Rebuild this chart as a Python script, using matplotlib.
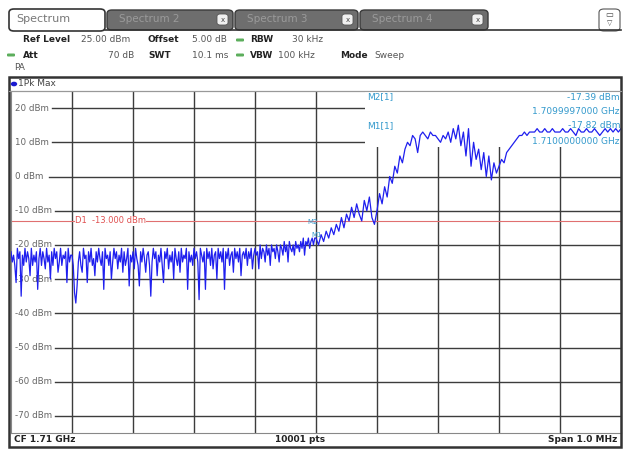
import numpy as np
import matplotlib
matplotlib.use('Agg')
import matplotlib.pyplot as plt
from matplotlib.patches import Rectangle, FancyBboxPatch, Circle

W, H = 623, 451

# sweep: CF 1.71 GHz, span 1 MHz (values in MHz)
f_start, f_stop = 1709.5, 1710.5
ref_level, bottom_level = 25, -75

# trace (1Pk Max), read division by division
div1 = [-22, -25, -23, -26, -31, -21, -24, -22, -35, -23, -26, -21, -25, -22, -24, -29, -21, -26, -23, -25, -22, -33, -24, -21,
        -26, -22, -24, -27, -21, -25, -23, -30, -22, -26, -21, -24, -22, -28, -25, -21, -26, -23, -24, -22, -31, -21, -25, -23]
div2 = [-23, -26, -34, -37, -32, -25, -22, -26, -28, -21, -24, -23, -31, -22, -25, -21, -26, -24, -29, -22, -25, -21, -24, -26,
        -22, -33, -21, -24, -23, -26, -22, -30, -25, -21, -24, -22, -27, -23, -25, -21, -28, -22, -26, -24, -21, -32, -23, -25]
div3 = [-22, -27, -21, -24, -26, -32, -22, -25, -21, -24, -28, -23, -22, -26, -35, -25, -21, -24, -22, -29, -23, -25, -21, -26,
        -31, -22, -24, -21, -27, -23, -25, -22, -30, -21, -24, -26, -22, -28, -21, -25, -23, -24, -21, -33, -22, -25, -23, -26]
div4 = [-21, -24, -22, -25, -36, -21, -23, -25, -22, -33, -21, -24, -22, -26, -21, -27, -23, -22, -30, -21, -24, -22, -25, -21,
        -33, -22, -24, -21, -26, -23, -22, -28, -21, -24, -22, -25, -21, -29, -23, -22, -24, -21, -26, -22, -24, -21, -27, -23]
div5 = [-21, -23, -22, -27, -20, -24, -21, -22, -25, -20, -23, -21, -26, -20, -22, -21, -24, -20, -22, -25, -20, -21, -23, -19,
        -22, -20, -25, -19, -21, -22, -20, -23, -19, -21, -20, -22, -19, -21, -18, -23, -19, -20, -18, -21, -19, -18, -20, -18]
div6 = [-18, -20, -17, -19, -16, -18, -15, -17, -14, -16, -12, -15, -11, -13, -9, -12, -8, -11, -13, -7, -10, -6, -12, -14]
div7 = [-10, -5, -8, -3, -6, 0, -2, 3, 1, 6, 4, 8, 10, 9, 12, 11, 7, 12, 13, 12, 11, 13, 12, 12]
div8 = [11, 10, 12, 11, 13, 10, 14, 11, 15, 9, 13, 6, 14, 3, 10, 5, 8, 2, 7, 0, 6, -1, 4, 1]
div9 = [3, 5, 4, 7, 8, 9, 10, 11, 12, 12, 13, 12, 13, 13, 13, 14, 13, 13, 14, 13, 13, 14, 13, 13]
div10 = [13, 14, 13, 13, 14, 13, 12, 14, 13, 13, 14, 13, 13, 14, 13, 12, 13, 14, 13, 14, 13, 14, 13, 14]
divisions = [div1, div2, div3, div4, div5, div6, div7, div8, div9, div10]

y_labels = ['20 dBm', '10 dBm', '0 dBm', '-10 dBm', '-20 dBm', '-30 dBm', '-40 dBm', '-50 dBm', '-60 dBm', '-70 dBm']
y_levels = [20, 10, 0, -10, -20, -30, -40, -50, -60, -70]
d1_level = -13.0

markers = [('M2[1]', '-17.39 dBm', '1.7099997000 GHz'),
           ('M1[1]', '-17.82 dBm', '1.7100000000 GHz')]


def fx(x):
    return x / W


def fy(y):
    return 1 - y / H


fig = plt.figure(figsize=(W / 100, H / 100), dpi=100)
fig.patch.set_facecolor('white')

# ---- tabs
fig.add_artist(plt.Line2D([fx(105), fx(621)], [fy(30), fy(30)], transform=fig.transFigure, color='#333333', lw=1.2))
fig.add_artist(FancyBboxPatch((fx(9), fy(31)), fx(96), 22 / H, boxstyle='round,pad=0,rounding_size=0.008',
                              transform=fig.transFigure, fc='white', ec='#333333', lw=1.2))
fig.text(fx(16), fy(19), 'Spectrum', fontsize=8, color='#777777', va='center')
tabs = [(107, 233, 'Spectrum 2'), (235, 358, 'Spectrum 3'), (360, 488, 'Spectrum 4')]
for x0, x1, name in tabs:
    fig.add_artist(FancyBboxPatch((fx(x0), fy(30)), fx(x1 - x0), 20 / H, boxstyle='round,pad=0,rounding_size=0.008',
                                  transform=fig.transFigure, fc='#6e6e6e', ec='#3a3a3a', lw=1.0))
    fig.text(fx(x0 + 12), fy(19), name, fontsize=7.5, color='#9a9a9a', va='center')
    fig.add_artist(FancyBboxPatch((fx(x1 - 16), fy(25)), fx(11), 11 / H, boxstyle='round,pad=0,rounding_size=0.005',
                                  transform=fig.transFigure, fc='#f0f0f0', ec='#555555', lw=0.6))
    fig.text(fx(x1 - 10.5), fy(19.5), 'x', fontsize=5, color='#444444', va='center', ha='center')
fig.add_artist(FancyBboxPatch((fx(599), fy(31)), fx(21), 22 / H, boxstyle='round,pad=0,rounding_size=0.008',
                              transform=fig.transFigure, fc='white', ec='#555555', lw=0.8))
fig.text(fx(609.5), fy(15), '▭', fontsize=6, color='#444444', va='center', ha='center')
fig.text(fx(609.5), fy(23), '▽', fontsize=5, color='#444444', va='center', ha='center')

# ---- settings
bold = dict(fontsize=6.5, fontweight='bold', color='#222222', va='center')
norm = dict(fontsize=6.5, color='#555555', va='center')
fig.text(fx(23), fy(40), 'Ref Level', **bold)
fig.text(fx(81), fy(40), '25.00 dBm', **norm)
fig.text(fx(148), fy(40), 'Offset', **bold)
fig.text(fx(192), fy(40), '5.00 dB', **norm)
fig.text(fx(250), fy(40), 'RBW', **bold)
fig.text(fx(292), fy(40), '30 kHz', **norm)
fig.text(fx(23), fy(55), 'Att', **bold)
fig.text(fx(134), fy(55), '70 dB', ha='right', **norm)
fig.text(fx(148), fy(55), 'SWT', **bold)
fig.text(fx(192), fy(55), '10.1 ms', **norm)
fig.text(fx(250), fy(55), 'VBW', **bold)
fig.text(fx(278), fy(55), '100 kHz', **norm)
fig.text(fx(340), fy(55), 'Mode', **bold)
fig.text(fx(374), fy(55), 'Sweep', **norm)
fig.text(fx(14), fy(68), 'PA', **norm)
for x, y in [(240, 40), (240, 55), (11, 55)]:
    fig.add_artist(FancyBboxPatch((fx(x - 4), fy(y + 1.5)), fx(8), 3 / H, boxstyle='round,pad=0,rounding_size=0.002',
                                  transform=fig.transFigure, fc='#5cae5c', ec='none'))

# ---- panel frame and trace label row
fig.add_artist(Rectangle((fx(8.5), fy(447)), fx(612.5), 370 / H, transform=fig.transFigure,
                         fc='none', ec='#333333', lw=1.8))
fig.add_artist(plt.Line2D([fx(9), fx(621)], [fy(91), fy(91)], transform=fig.transFigure, color='#999999', lw=0.8))
fig.add_artist(Circle((fx(14), fy(84)), 3.2 / W, transform=fig.transFigure, fc='#1a1ad0', ec='none'))
fig.text(fx(18), fy(84), '1Pk Max', fontsize=6.5, color='#444444', va='center')

# ---- footer
foot = dict(fontsize=6.5, fontweight='bold', color='#222222', va='center')
fig.text(fx(14), fy(440), 'CF 1.71 GHz', **foot)
fig.text(fx(300), fy(440), '10001 pts', ha='center', **foot)
fig.text(fx(617), fy(440), 'Span 1.0 MHz', ha='right', **foot)

# ---- diagram
ax = fig.add_axes([fx(11), fy(433), fx(610), (433 - 91) / H])
ax.set_xlim(f_start, f_stop)
ax.set_ylim(bottom_level, ref_level)
ax.set_xticks([])
ax.set_yticks([])
for s in ax.spines.values():
    s.set_color('#888888')
    s.set_linewidth(0.8)

grid_c = '#3c3c3c'
edges = np.linspace(f_start, f_stop, 11)
for f in edges[1:-1]:
    ax.axvline(f, color=grid_c, lw=1.0, zorder=1)
for lev, lab in zip(y_levels, y_labels):
    start = 0.067 if lev > 0 else (0.062 if lev == 0 else 0.072)
    ax.axhline(lev, xmin=start, xmax=1, color=grid_c, lw=1.0, zorder=1)
    ax.text(0.007, lev, lab, transform=ax.get_yaxis_transform(), fontsize=6.3,
            color='#666666', va='center', zorder=2)

# marker info box hides grid
ax.add_patch(Rectangle((0.58, 0.835), 0.42, 0.165, transform=ax.transAxes, fc='white', ec='none', zorder=3))

# display line D1
ax.axhline(d1_level, color='#e07070', lw=0.8, zorder=2)
ax.text(0.105, d1_level, 'D1  -13.000 dBm', transform=ax.get_yaxis_transform(), fontsize=6,
        color='#e05050', va='center', ha='left', zorder=2,
        bbox=dict(fc='white', ec='none', pad=0.3))

freqs, trace = [], []
for i, vals in enumerate(divisions):
    last = i == len(divisions) - 1
    freqs.extend(np.linspace(edges[i], edges[i + 1], len(vals), endpoint=last))
    trace.extend(vals)
ax.plot(freqs, trace, color='#1f1fee', lw=0.9, zorder=4)

mcol = '#3399cc'
ax.text(1709.994, -13.2, 'M2', fontsize=5, color=mcol, ha='center', va='center', zorder=5)
ax.text(1710.001, -17.0, 'M1', fontsize=5, color=mcol, ha='center', va='center', zorder=5)

row = 0
for name, lvl, frq in markers:
    yy = 97 + row * 29
    fig.text(fx(367), fy(yy), name, fontsize=6.5, color=mcol, va='center', zorder=6)
    fig.text(fx(620), fy(yy), lvl, fontsize=6.5, color=mcol, va='center', ha='right', zorder=6)
    fig.text(fx(620), fy(yy + 15), frq, fontsize=6.5, color=mcol, va='center', ha='right', zorder=6)
    row += 1

fig.savefig('out.png', dpi=100)
